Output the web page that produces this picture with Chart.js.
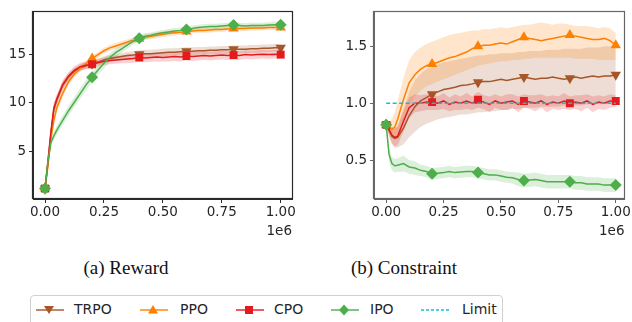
<!DOCTYPE html>
<html>
<head>
<meta charset="utf-8">
<script src="https://cdn.jsdelivr.net/npm/chart.js@4.4.1/dist/chart.umd.min.js"></script>
<style>
  body { margin: 0; background: #fff; }
  #page { position: relative; width: 632px; height: 322px; overflow: hidden; background: #fff; }
  canvas { position: absolute; top: 0; }
  .cap { position: absolute; top: 257px; font: 19px "Liberation Serif", "Times New Roman", serif; color: #111; white-space: nowrap; transform: translateX(-50%); }
  #legend { position: absolute; left: 30px; top: 295px; width: 471px; height: 40px; border: 1px solid #d0d0d0; border-radius: 4px; }
  .item { position: absolute; top: 4px; height: 20px; }
  .item svg { position: absolute; top: 0; left: 0; }
  .item span { position: absolute; top: 1px; font: 14px "DejaVu Sans", sans-serif; color: #262626; white-space: nowrap; }
</style>
</head>
<body>
<div id="page">
  <canvas id="rewardChart" width="300" height="240" style="left:0"></canvas>
  <canvas id="costChart" width="312" height="240" style="left:320px"></canvas>
  <div class="cap" style="left:126px">(a) Reward</div>
  <div class="cap" style="left:404px">(b) Constraint</div>
  <div id="legend"></div>
</div>
<script>
// training steps (x 1e6)
const steps = [0, 0.0125, 0.025, 0.0375, 0.05, 0.075, 0.1, 0.125, 0.15, 0.175, 0.2, 0.225, 0.25, 0.275, 0.3, 0.325, 0.35, 0.375, 0.4, 0.425, 0.45, 0.475, 0.5, 0.525, 0.55, 0.575, 0.6, 0.625, 0.65, 0.675, 0.7, 0.725, 0.75, 0.775, 0.8, 0.825, 0.85, 0.875, 0.9, 0.925, 0.95, 0.975, 1.0];
const markerSteps = [0, 0.2, 0.4, 0.6, 0.8, 1.0];
const xTicks = [0, 0.25, 0.5, 0.75, 1.0];
const rewardTicks = [5, 10, 15];
const costTicks = [0.5, 1.0, 1.5];
const costLimit = 1.0;

// (a) reward: mean and half-width of the shaded band
const rewardTRPO = [1.15, 3.8, 6.8, 9.3, 10.3, 11.8, 12.7, 13.3, 13.65, 13.85, 14.05, 14.25, 14.45, 14.6, 14.7, 14.8, 14.9, 14.95, 15.05, 15.1, 15.1, 15.15, 15.2, 15.25, 15.25, 15.3, 15.35, 15.35, 15.4, 15.4, 15.45, 15.45, 15.5, 15.5, 15.55, 15.55, 15.55, 15.6, 15.6, 15.65, 15.65, 15.7, 15.7];
const rewardPPO = [1.15, 3.5, 6.3, 8.2, 9.5, 11.0, 12.2, 13.0, 13.6, 14.1, 14.6, 15.0, 15.4, 15.7, 15.9, 16.1, 16.3, 16.5, 16.65, 16.8, 16.9, 17.0, 17.1, 17.2, 17.25, 17.3, 17.4, 17.45, 17.5, 17.5, 17.55, 17.6, 17.6, 17.65, 17.7, 17.7, 17.7, 17.75, 17.75, 17.75, 17.8, 17.8, 17.8];
const rewardCPO = [1.15, 4.0, 7.0, 9.5, 10.4, 11.9, 12.8, 13.4, 13.75, 13.9, 14.0, 14.15, 14.3, 14.4, 14.45, 14.5, 14.55, 14.6, 14.7, 14.65, 14.7, 14.75, 14.7, 14.75, 14.8, 14.75, 14.85, 14.8, 14.85, 14.9, 14.85, 14.9, 14.95, 14.9, 14.95, 14.9, 15.0, 14.95, 15.0, 15.05, 15.0, 15.05, 15.0];
const rewardIPO = [1.15, 4.0, 5.9, 6.6, 7.2, 8.2, 9.2, 10.1, 11.0, 11.9, 12.65, 13.4, 14.1, 14.7, 15.2, 15.6, 16.0, 16.4, 16.7, 16.9, 17.0, 17.15, 17.25, 17.35, 17.45, 17.5, 17.6, 17.7, 17.8, 17.85, 17.9, 17.9, 17.95, 18.0, 18.05, 18.0, 17.95, 18.0, 18.0, 18.0, 18.05, 18.1, 18.1];
const rewardSpreadTRPO = [0.05, 0.5, 0.6, 0.55, 0.5, 0.45, 0.4, 0.35, 0.35, 0.35, 0.35, 0.35, 0.35, 0.35, 0.35, 0.35, 0.4, 0.4, 0.4, 0.4, 0.4, 0.4, 0.4, 0.4, 0.4, 0.4, 0.4, 0.4, 0.4, 0.4, 0.4, 0.4, 0.4, 0.4, 0.4, 0.4, 0.4, 0.4, 0.4, 0.4, 0.4, 0.4, 0.4];
const rewardSpreadPPO = [0.05, 0.4, 0.5, 0.5, 0.45, 0.4, 0.35, 0.35, 0.35, 0.3, 0.3, 0.3, 0.3, 0.3, 0.3, 0.3, 0.3, 0.3, 0.3, 0.3, 0.3, 0.3, 0.3, 0.3, 0.3, 0.25, 0.25, 0.25, 0.25, 0.25, 0.25, 0.25, 0.25, 0.25, 0.25, 0.25, 0.25, 0.25, 0.25, 0.25, 0.25, 0.25, 0.25];
const rewardSpreadCPO = [0.05, 0.6, 0.7, 0.6, 0.5, 0.45, 0.4, 0.4, 0.4, 0.4, 0.4, 0.4, 0.4, 0.4, 0.4, 0.4, 0.45, 0.45, 0.45, 0.45, 0.45, 0.45, 0.45, 0.45, 0.45, 0.45, 0.45, 0.45, 0.45, 0.45, 0.45, 0.45, 0.45, 0.45, 0.45, 0.45, 0.45, 0.45, 0.45, 0.45, 0.45, 0.45, 0.45];
const rewardSpreadIPO = [0.05, 0.4, 0.4, 0.4, 0.45, 0.5, 0.5, 0.55, 0.55, 0.55, 0.5, 0.5, 0.5, 0.45, 0.45, 0.4, 0.4, 0.35, 0.35, 0.3, 0.3, 0.3, 0.3, 0.3, 0.3, 0.3, 0.3, 0.3, 0.3, 0.3, 0.3, 0.3, 0.3, 0.3, 0.3, 0.3, 0.3, 0.3, 0.3, 0.3, 0.3, 0.3, 0.3];

// (b) constraint: mean, band upper and lower
const costTRPO = [0.81, 0.76, 0.71, 0.69, 0.70, 0.78, 0.89, 0.97, 1.02, 1.05, 1.08, 1.10, 1.12, 1.13, 1.14, 1.155, 1.16, 1.17, 1.185, 1.19, 1.19, 1.20, 1.21, 1.20, 1.21, 1.22, 1.23, 1.22, 1.21, 1.22, 1.22, 1.23, 1.22, 1.21, 1.22, 1.23, 1.22, 1.23, 1.24, 1.23, 1.24, 1.24, 1.25];
const costTRPOHigh = [0.81, 0.80, 0.78, 0.78, 0.80, 0.95, 1.10, 1.20, 1.26, 1.30, 1.32, 1.34, 1.36, 1.37, 1.38, 1.39, 1.40, 1.41, 1.42, 1.42, 1.43, 1.43, 1.44, 1.44, 1.44, 1.45, 1.45, 1.46, 1.46, 1.46, 1.47, 1.47, 1.47, 1.48, 1.48, 1.48, 1.48, 1.49, 1.49, 1.49, 1.50, 1.50, 1.50];
const costTRPOLow = [0.81, 0.70, 0.64, 0.61, 0.61, 0.64, 0.70, 0.75, 0.79, 0.82, 0.84, 0.86, 0.87, 0.88, 0.89, 0.90, 0.90, 0.91, 0.92, 0.92, 0.93, 0.93, 0.94, 0.94, 0.95, 0.95, 0.96, 0.96, 0.96, 0.97, 0.97, 0.97, 0.97, 0.98, 0.98, 0.98, 0.98, 0.99, 0.99, 0.99, 0.99, 1.0, 1.0];
const costPPO = [0.81, 0.79, 0.77, 0.79, 0.86, 1.03, 1.18, 1.25, 1.30, 1.33, 1.345, 1.36, 1.38, 1.40, 1.41, 1.43, 1.45, 1.48, 1.50, 1.51, 1.51, 1.52, 1.53, 1.52, 1.54, 1.56, 1.58, 1.57, 1.56, 1.55, 1.56, 1.57, 1.58, 1.59, 1.60, 1.59, 1.58, 1.57, 1.56, 1.56, 1.57, 1.55, 1.51];
const costPPOHigh = [0.81, 0.84, 0.86, 0.92, 1.02, 1.22, 1.38, 1.45, 1.49, 1.52, 1.54, 1.56, 1.58, 1.60, 1.61, 1.62, 1.63, 1.64, 1.64, 1.65, 1.65, 1.66, 1.67, 1.66, 1.67, 1.68, 1.69, 1.69, 1.70, 1.71, 1.70, 1.69, 1.70, 1.70, 1.69, 1.68, 1.68, 1.68, 1.67, 1.66, 1.67, 1.66, 1.62];
const costPPOLow = [0.81, 0.73, 0.69, 0.68, 0.71, 0.86, 0.98, 1.06, 1.11, 1.15, 1.17, 1.19, 1.21, 1.23, 1.25, 1.27, 1.29, 1.31, 1.33, 1.34, 1.35, 1.36, 1.37, 1.37, 1.38, 1.38, 1.39, 1.39, 1.40, 1.40, 1.40, 1.40, 1.40, 1.40, 1.40, 1.39, 1.39, 1.39, 1.39, 1.38, 1.38, 1.38, 1.38];
const costCPO = [0.81, 0.77, 0.72, 0.70, 0.71, 0.84, 0.96, 1.0, 1.0, 1.01, 1.01, 1.0, 1.02, 0.99, 1.01, 1.0, 1.02, 1.0, 1.03, 1.01, 0.99, 1.02, 1.0, 1.01, 1.02, 0.99, 1.02, 1.01, 1.0, 1.02, 0.99, 1.01, 1.0, 1.02, 1.0, 1.01, 1.0, 1.02, 0.99, 1.01, 1.0, 1.02, 1.02];
const costSpreadCPO = [0.02, 0.05, 0.07, 0.08, 0.08, 0.09, 0.09, 0.08, 0.07, 0.07, 0.07, 0.06, 0.07, 0.06, 0.07, 0.06, 0.07, 0.06, 0.07, 0.06, 0.07, 0.06, 0.06, 0.07, 0.06, 0.07, 0.06, 0.06, 0.07, 0.06, 0.07, 0.06, 0.06, 0.07, 0.06, 0.06, 0.07, 0.06, 0.07, 0.06, 0.06, 0.06, 0.05];
const costIPO = [0.81, 0.55, 0.47, 0.45, 0.455, 0.47, 0.44, 0.43, 0.41, 0.40, 0.38, 0.385, 0.39, 0.40, 0.39, 0.395, 0.40, 0.40, 0.39, 0.38, 0.37, 0.37, 0.36, 0.35, 0.345, 0.33, 0.32, 0.325, 0.33, 0.32, 0.31, 0.31, 0.31, 0.31, 0.31, 0.30, 0.30, 0.29, 0.29, 0.29, 0.28, 0.28, 0.28];
const costSpreadIPO = [0.02, 0.06, 0.06, 0.06, 0.06, 0.07, 0.06, 0.06, 0.05, 0.05, 0.05, 0.05, 0.05, 0.05, 0.05, 0.05, 0.05, 0.05, 0.05, 0.05, 0.05, 0.05, 0.05, 0.05, 0.05, 0.06, 0.06, 0.06, 0.06, 0.06, 0.06, 0.06, 0.06, 0.06, 0.06, 0.06, 0.06, 0.06, 0.06, 0.06, 0.06, 0.06, 0.06];

const algos = [
    { name: 'TRPO', color: '#a65628', rgb: '166,86,40', style: 'triangle', rot: 180, r: 6 },
    { name: 'PPO', color: '#ff7f00', rgb: '255,127,0', style: 'triangle', rot: 0, r: 6 },
    { name: 'CPO', color: '#e41a1c', rgb: '228,26,28', style: 'rect', rot: 0, r: 5.6 },
    { name: 'IPO', color: '#4daf4a', rgb: '77,175,74', style: 'rectRot', rot: 0, r: 6 }
];
const limitColor = '#17becf';

const pts = arr => arr.map((v, i) => ({ x: steps[i], y: v }));
const plus = (a, b) => a.map((v, i) => v + b[i]);
const minus = (a, b) => a.map((v, i) => v - b[i]);

function buildSets(means, highs, lows) {
    const sets = [];
    means.forEach((m, k) => {
        const a = algos[k];
        const hi = sets.length;
        sets.push({ data: pts(highs[k]), borderWidth: 0, pointRadius: 0, fill: hi + 1,
            backgroundColor: 'rgba(' + a.rgb + ',0.2)', order: 20 - k });
        sets.push({ data: pts(lows[k]), borderWidth: 0, pointRadius: 0, fill: false, order: 20 - k });
    });
    means.forEach((m, k) => {
        const a = algos[k];
        sets.push({
            data: pts(m), borderColor: a.color, borderWidth: 1.5, fill: false,
            pointStyle: a.style, pointRotation: a.rot,
            pointRadius: c => markerSteps.includes(steps[c.dataIndex]) ? a.r : 0,
            pointBackgroundColor: a.color, pointBorderWidth: 0,
            order: 5 - k
        });
    });
    return sets;
}

const frame = {
    id: 'frame',
    afterDraw(chart, args, opts) {
        const a = chart.chartArea, ctx = chart.ctx;
        ctx.save();
        ctx.strokeStyle = opts.color;
        ctx.lineWidth = 1.2;
        ctx.strokeRect(Math.round(a.left) - 0.5, Math.round(a.top) + 0.5, Math.round(a.right - a.left) + 1, Math.round(a.bottom - a.top) - 1);
        ctx.restore();
    }
};

const tickFont = { family: "'DejaVu Sans', sans-serif", size: 13.5 };

function makeChart(id, datasets, o) {
    return new Chart(document.getElementById(id), {
        type: 'line',
        data: { datasets },
        plugins: [frame],
        options: {
            responsive: false,
            animation: false,
            devicePixelRatio: 1,
            layout: { padding: { top: o.top, right: o.right, left: 0, bottom: 0 } },
            elements: { line: { tension: 0 } },
            plugins: { legend: { display: false }, tooltip: { enabled: false }, frame: { color: o.frame } },
            scales: {
                x: {
                    type: 'linear', min: o.xmin, max: o.xmax,
                    afterBuildTicks: s => { s.ticks = xTicks.map(v => ({ value: v })); },
                    afterFit: s => { s.height = o.xh; },
                    ticks: { callback: v => v.toFixed(2), font: tickFont, color: '#262626', padding: 1, maxRotation: 0 },
                    grid: { drawOnChartArea: false, tickLength: 4, color: o.frame },
                    border: { color: o.frame },
                    title: { display: true, text: '1e6', align: 'end', font: tickFont, color: '#262626', padding: 0 }
                },
                y: {
                    type: 'linear', min: o.ymin, max: o.ymax,
                    afterBuildTicks: s => { s.ticks = o.yticks.map(v => ({ value: v })); },
                    afterFit: s => { s.width = o.yw; },
                    ticks: { callback: o.yfmt, font: tickFont, color: '#262626', padding: 3 },
                    grid: { drawOnChartArea: false, tickLength: 4, color: o.frame },
                    border: { color: o.frame }
                }
            }
        }
    });
}

const rewardMeans = [rewardTRPO, rewardPPO, rewardCPO, rewardIPO];
const rewardSpreads = [rewardSpreadTRPO, rewardSpreadPPO, rewardSpreadCPO, rewardSpreadIPO];
makeChart('rewardChart',
    buildSets(rewardMeans, rewardMeans.map((m, k) => plus(m, rewardSpreads[k])), rewardMeans.map((m, k) => minus(m, rewardSpreads[k]))),
    { top: 6, right: 8, xh: 41, yw: 33, xmin: -0.051, xmax: 1.048, ymin: 0.07, ymax: 19.5, yticks: rewardTicks, yfmt: v => String(v), frame: '#2a2a2a' });

const costMeans = [costTRPO, costPPO, costCPO, costIPO];
const costSets = buildSets(costMeans,
    [costTRPOHigh, costPPOHigh, plus(costCPO, costSpreadCPO), plus(costIPO, costSpreadIPO)],
    [costTRPOLow, costPPOLow, minus(costCPO, costSpreadCPO), minus(costIPO, costSpreadIPO)]);
costSets.push({ data: [{ x: 0, y: costLimit }, { x: 1, y: costLimit }], borderColor: limitColor, borderWidth: 1.3,
    borderDash: [4, 2.5], pointRadius: 0, fill: false, order: -1 });
makeChart('costChart', costSets,
    { top: 9, right: 5, xh: 41, yw: 54, xmin: -0.053, xmax: 1.038, ymin: 0.158, ymax: 1.81, yticks: costTicks, yfmt: v => v.toFixed(1), frame: '#666' });

// legend
const legendItems = [
    { name: 'TRPO', x: 4, text: 43 },
    { name: 'PPO', x: 108, text: 149 },
    { name: 'CPO', x: 204, text: 243 },
    { name: 'IPO', x: 299, text: 339 },
    { name: 'Limit', x: 389, text: 431 }
];
function markerSvg(style, color) {
    if (style === 'triangle-down') return '<polygon points="10,14 5,6 15,6" fill="' + color + '"/>';
    if (style === 'triangle') return '<polygon points="10,5 15,13.5 5,13.5" fill="' + color + '"/>';
    if (style === 'rect') return '<rect x="6" y="6" width="8" height="8" fill="' + color + '"/>';
    return '<polygon points="10,4.5 15,10 10,15.5 5,10" fill="' + color + '"/>';
}
const legend = document.getElementById('legend');
legendItems.forEach((it, k) => {
    const div = document.createElement('div');
    div.className = 'item';
    div.style.left = it.x + 'px';
    let svg;
    if (k < 4) {
        const a = algos[k];
        const st = a.style === 'triangle' && a.rot === 180 ? 'triangle-down' : a.style;
        svg = '<svg width="30" height="20" viewBox="0 0 30 20"><g transform="translate(5,0)"></g>' +
            '<line x1="1" y1="10" x2="29" y2="10" stroke="' + a.color + '" stroke-opacity="0.7" stroke-width="2"/>' +
            '<g transform="translate(4,0)">' + markerSvg(st, a.color) + '</g></svg>';
    } else {
        svg = '<svg width="30" height="20"><line x1="1" y1="10" x2="29" y2="10" stroke="' + limitColor +
            '" stroke-width="1.5" stroke-dasharray="3,2"/></svg>';
    }
    div.innerHTML = svg + '<span style="left:' + (it.text - it.x) + 'px">' + it.name + '</span>';
    legend.appendChild(div);
});
</script>
</body>
</html>
